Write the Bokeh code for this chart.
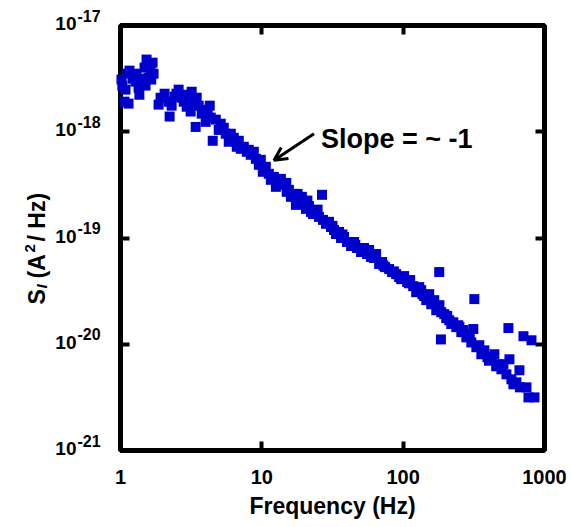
from bokeh.plotting import figure
from bokeh.models import LogAxis, FixedTicker, CustomJSTickFormatter, Label, Arrow, OpenHead, ColumnDataSource
from bokeh.core.properties import value
from bokeh.embed import file_html
from bokeh.resources import INLINE
import math

# ---------------- data ----------------
freq_hz = [
    1.016, 1.03, 1.067, 1.085, 1.121, 1.14, 1.158, 1.216, 1.277, 1.299, 1.342, 1.36, 1.409, 1.48, 1.504,
    1.529, 1.579, 1.633, 1.65, 1.687, 1.714,
    1.86, 1.921, 2.051, 2.19, 2.226, 2.30, 2.415, 2.49, 2.578, 2.708, 2.80, 2.844, 2.938, 3.035, 3.136,
    3.188, 3.348, 3.403, 3.46, 3.574, 3.754, 3.943, 4.007, 4.14, 4.28, 4.348, 4.493, 4.719, 4.955, 5.12,
    5.377, 5.555, 5.834, 6.028, 6.331, 6.649, 6.87, 7.097, 7.454, 7.828, 8.088, 8.356, 8.776, 9.068,
    9.521, 9.837,
    10.16, 10.67, 11.21, 11.58, 12.16, 12.57, 13.20, 13.64, 14.32, 15.0, 15.54, 16.06, 16.87, 17.42,
    18.30, 19.2, 19.86, 20.52, 21.54, 22.27, 23.0, 24.15, 25.37, 26.65, 27.08, 28.44, 29.87, 30.86,
    32.41, 33.49, 35.17, 36.34, 38.16, 40.07, 42.8, 44.94, 47.21, 50.37, 52.9, 55.55, 57.41, 59.29,
    62.28, 64.35, 67.58, 70.97, 74.52, 79.55, 83.55, 89.2, 93.68, 96.79,
    101.6, 106.8, 112.1, 117.7, 123.6, 129.9, 134.2, 140.9, 145.6, 152.9, 158.0, 165.9, 171.4, 180.0,
    180.5, 186.0, 185.0, 195.4, 201.8, 212.0, 219.0, 226.3, 237.6, 245.5, 257.9, 266.5, 279.8, 289.1,
    303.6, 313.6, 318.8, 329.4, 345.9, 357.5, 375.5, 394.4, 420.9, 441.9, 471.9, 495.5, 512.0, 537.7,
    555.5, 564.7, 583.4, 602.7, 632.9, 664.8, 670.0, 709.8, 745.4, 770.2, 808.8, 849.5,
    14.9, 17.9, 21.0, 24.8, 31.6, 37.2, 45.8, 54.0, 61.0, 72.5, 86.0, 110.0, 137.0, 162.0, 205.0,
    250.0, 296.0, 366.0, 405.0, 455.0,
]

psd = [
    3.10e-18, 2.72e-18, 1.92e-18, 2.49e-18, 3.52e-18, 1.84e-18, 3.76e-18, 3.16e-18, 2.96e-18, 3.52e-18,
    2.60e-18, 2.23e-18, 3.16e-18, 4.02e-18, 2.72e-18, 4.78e-18, 3.23e-18, 3.68e-18, 3.10e-18, 4.47e-18,
    3.52e-18,
    1.80e-18, 2.09e-18, 2.28e-18, 1.92e-18, 1.39e-18, 1.76e-18, 2.14e-18, 2.28e-18, 2.49e-18, 2.09e-18,
    1.92e-18, 2.23e-18, 1.72e-18, 2.00e-18, 1.55e-18, 2.38e-18, 1.84e-18, 1.11e-18, 2.09e-18, 1.76e-18,
    1.48e-18, 1.61e-18, 1.24e-18, 1.55e-18, 1.76e-18, 1.36e-18, 8.22e-19, 1.30e-18, 1.04e-18, 1.19e-18,
    1.09e-18, 9.58e-19, 8.05e-19, 9.58e-19, 8.77e-19, 7.22e-19, 8.22e-19, 6.91e-19, 7.22e-19, 6.48e-19,
    6.76e-19, 6.07e-19, 6.48e-19, 5.56e-19, 4.89e-19, 5.44e-19,
    4.20e-19, 4.68e-19, 4.02e-19, 3.53e-19, 3.76e-19, 3.03e-19, 3.38e-19, 3.60e-19, 3.16e-19, 2.72e-19,
    2.84e-19, 2.44e-19, 2.60e-19, 2.05e-19, 2.33e-19, 2.44e-19, 2.09e-19, 1.88e-19, 2.00e-19, 1.76e-19,
    1.68e-19, 1.76e-19, 1.58e-19, 2.55e-19, 1.48e-19, 1.36e-19, 1.42e-19, 1.27e-19, 1.19e-19, 1.09e-19,
    1.14e-19, 1.00e-19, 1.02e-19, 9.17e-20, 8.41e-20, 9.17e-20, 8.05e-20, 7.38e-20, 8.05e-20, 7.06e-20,
    7.71e-20, 6.62e-20, 6.48e-20, 7.06e-20, 5.69e-20, 5.94e-20, 5.32e-20, 5.10e-20, 4.78e-20, 4.57e-20,
    4.29e-20, 4.10e-20,
    4.38e-20, 3.85e-20, 4.02e-20, 3.52e-20, 3.09e-20, 3.45e-20, 3.23e-20, 2.84e-20, 2.60e-20, 2.96e-20,
    2.38e-20, 2.60e-20, 2.09e-20, 4.78e-20, 2.33e-20, 2.00e-20, 1.11e-20, 1.92e-20, 1.76e-20, 1.68e-20,
    1.55e-20, 1.61e-20, 1.45e-20, 1.51e-20, 1.30e-20, 1.36e-20, 1.16e-20, 1.24e-20, 1.04e-20, 1.39e-20,
    2.66e-20, 9.37e-21, 9.79e-21, 8.05e-21, 8.77e-21, 7.54e-21, 7.22e-21, 8.05e-21, 6.48e-21, 5.81e-21,
    6.48e-21, 5.21e-21, 1.42e-20, 7.22e-21, 4.68e-21, 4.20e-21, 4.38e-21, 5.69e-21, 3.93e-21, 1.19e-20,
    3.93e-21, 3.16e-21, 1.09e-20, 3.16e-21,
    3.30e-19, 2.60e-19, 2.25e-19, 1.85e-19, 1.30e-19, 1.08e-19, 8.60e-20, 7.60e-20, 6.90e-20, 5.50e-20,
    4.85e-20, 3.75e-20, 2.95e-20, 2.50e-20, 1.85e-20, 1.45e-20, 1.18e-20, 8.40e-21, 7.00e-21, 6.20e-21,
]

x_ticks = [1, 10, 100, 1000]
x_tick_labels = ["1", "10", "100", "1000"]
y_tick_exponents = [-21, -20, -19, -18, -17]
x_label = "Frequency (Hz)"
y_label_parts = ["S", "I", "(A", "2", "/ Hz)"]
annotation_text = "Slope = ~ -1"
annotation_pos = (26.2, 8.6e-19)
arrow_start = (23.4, 9.6e-19)
arrow_end = (12.2, 5.4e-19)

FONT = "Liberation Sans"
BLUE = "#0000cc"

p = figure(width=571, height=527, x_axis_type="log", y_axis_type="log",
           x_range=(1, 1000), y_range=(1e-21, 1e-17),
           output_backend="svg", toolbar_location=None,
           min_border_left=120, min_border_right=27, min_border_top=25, min_border_bottom=77)
p.grid.visible = False
p.outline_line_color = "black"
p.outline_line_width = 5
p.background_fill_color = "white"
p.border_fill_color = "white"

y_ticks = [10.0 ** e for e in y_tick_exponents]


def style(ax):
    ax.axis_line_color = None
    ax.major_tick_line_color = "black"
    ax.major_tick_line_width = 4
    ax.major_tick_in = 9
    ax.major_tick_out = 0
    ax.minor_tick_line_color = None


# bottom axis
xb = p.xaxis[0]
xb.ticker = FixedTicker(ticks=x_ticks)
xb.major_label_overrides = {t: l for t, l in zip(x_ticks, x_tick_labels)}
xb.major_label_text_font = FONT
xb.major_label_text_font_style = "bold"
xb.major_label_text_font_size = "20px"
xb.major_label_text_color = "black"
xb.major_label_standoff = 19
xb.axis_label = x_label
xb.axis_label_text_font = FONT
xb.axis_label_text_font_style = "bold"
xb.axis_label_text_font_size = "23px"
xb.axis_label_text_color = "black"
xb.axis_label_standoff = 6
style(xb)

# left axis: ticks only (labels drawn as text with superscripts)
yl = p.yaxis[0]
yl.ticker = FixedTicker(ticks=y_ticks)
yl.formatter = CustomJSTickFormatter(code="return ''")
yl.major_label_standoff = 0
style(yl)

# mirrored axes
top = LogAxis(ticker=FixedTicker(ticks=x_ticks), formatter=CustomJSTickFormatter(code="return ''"),
              major_label_standoff=0)
style(top)
p.add_layout(top, "above")
right = LogAxis(ticker=FixedTicker(ticks=y_ticks), formatter=CustomJSTickFormatter(code="return ''"),
                major_label_standoff=0)
style(right)
p.add_layout(right, "right")

# data
r = p.scatter(freq_hz, psd, marker="square", size=10, fill_color=BLUE, line_color=None)
r.level = "overlay"

# y tick labels: "10" with superscript exponent
n = len(y_ticks)
base_src = ColumnDataSource(dict(x=[x_ticks[0]] * n, y=y_ticks, t=["10"] * n))
tb = p.text(x="x", y="y", text="t", source=base_src, x_offset=-44, y_offset=-2,
            text_align="right", text_baseline="middle", text_font=value(FONT),
            text_font_style=value("bold"), text_font_size=value("19px"), text_color="black")
tb.level = "overlay"
exp_src = ColumnDataSource(dict(x=[x_ticks[0]] * n, y=y_ticks, t=[str(e) for e in y_tick_exponents]))
te = p.text(x="x", y="y", text="t", source=exp_src, x_offset=-43, y_offset=-10,
            text_align="left", text_baseline="middle", text_font=value(FONT),
            text_font_style=value("bold"), text_font_size=value("16px"), text_color="black")
te.level = "overlay"

# y axis label  S_I (A^2 / Hz), rotated, pieces positioned along the left side
ylab_src = ColumnDataSource(dict(
    x=[x_ticks[0]] * 5,
    y=[y_ticks[0]] * 5,
    t=y_label_parts,
    xo=[-84, -79, -84, -91, -84],
    yo=[-146, -162, -172, -198, -209],
    fs=["23px", "15px", "23px", "15px", "23px"],
    st=["bold", "bold italic", "bold", "bold", "bold"],
))
tl = p.text(x="x", y="y", text="t", source=ylab_src, x_offset="xo", y_offset="yo",
            angle=math.pi / 2, text_align="left", text_baseline="alphabetic",
            text_font=value(FONT), text_font_style="st", text_font_size="fs", text_color="black")
tl.level = "overlay"

# annotation
p.add_layout(Label(x=annotation_pos[0], y=annotation_pos[1], text=annotation_text,
                   text_align="left", text_baseline="alphabetic", text_font=FONT,
                   text_font_style="bold", text_font_size="27px", text_color="black"))
p.add_layout(Arrow(x_start=arrow_start[0], y_start=arrow_start[1], x_end=arrow_end[0], y_end=arrow_end[1],
                   line_width=3, line_color="black",
                   end=OpenHead(size=13, line_width=3, line_color="black")))

open("out.html", "w").write(file_html(p, INLINE))
